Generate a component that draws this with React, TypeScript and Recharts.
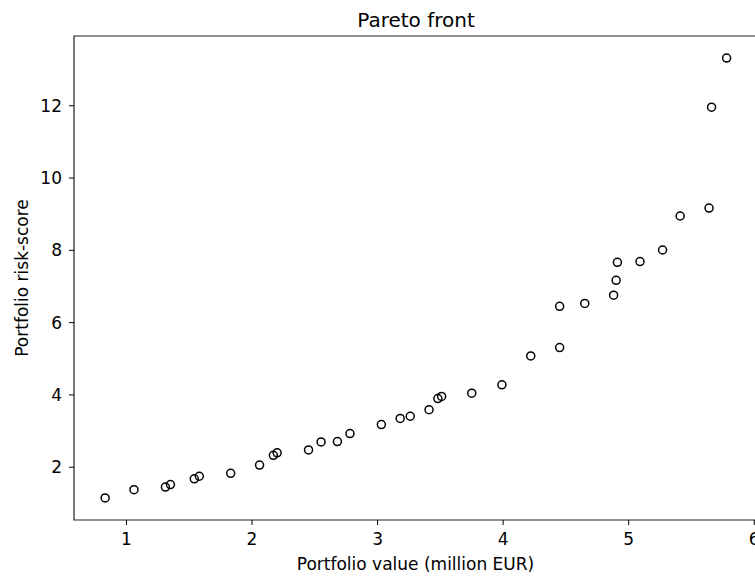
import { ScatterChart, Scatter, XAxis, YAxis, ReferenceArea } from 'recharts';

// portfolio value (million EUR) for each solution on the front
const portfolioValue = [
    0.83, 1.06, 1.31, 1.35, 1.54, 1.58, 1.83, 2.06, 2.17, 2.2,
    2.45, 2.55, 2.68, 2.78, 3.03, 3.18, 3.26, 3.41, 3.48, 3.51,
    3.75, 3.99, 4.22, 4.45, 4.45, 4.65, 4.88, 4.9, 4.91, 5.09,
    5.27, 5.41, 5.64, 5.66, 5.78,
];
// matching risk scores
const riskScore = [
    1.15, 1.38, 1.45, 1.52, 1.68, 1.75, 1.83, 2.06, 2.33, 2.4,
    2.48, 2.7, 2.71, 2.93, 3.18, 3.35, 3.41, 3.59, 3.9, 3.96,
    4.05, 4.28, 5.08, 5.31, 6.45, 6.53, 6.76, 7.17, 7.67, 7.69,
    8.01, 8.95, 9.17, 11.96, 13.32,
];
const xTicks = [1, 2, 3, 4, 5, 6];
const yTicks = [2, 4, 6, 8, 10, 12];
const xDomain = [0.582, 6.022];
const yDomain = [0.54, 13.93];

const points = portfolioValue.map((v, i) => ({ x: v, y: riskScore[i] }));

const FONT = '"DejaVu Sans", sans-serif';

const OpenCircle = (props: any) => (
    <circle cx={props.cx} cy={props.cy} r={4} fill="none" stroke="#000" strokeWidth={1.5} />
);

const YLabel = (props: any) => {
    const vb = props.viewBox;
    const cy = vb.y + vb.height / 2;
    return (
        <text x={22} y={cy} transform={`rotate(-90, 22, ${cy})`} textAnchor="middle" dominantBaseline="central"
            fontFamily={FONT} fontSize={17} fill="#000">
            Portfolio risk-score
        </text>
    );
};

export default function App() {
    return (
        <div style={{ position: 'absolute', left: 0, top: 0, width: 755, height: 576, overflow: 'hidden', background: '#fff' }}>
            <div style={{ position: 'absolute', left: 216, top: 10, width: 400, textAlign: 'center', fontFamily: FONT, fontSize: 20, lineHeight: '20px', color: '#000' }}>
                Pareto front
            </div>
            <ScatterChart width={760} height={576} margin={{ top: 36, right: 3, bottom: 0, left: 0 }}>
                <XAxis type="number" dataKey="x" domain={xDomain} ticks={xTicks} allowDataOverflow
                    height={56} axisLine={false} tickSize={5} tickMargin={8}
                    tickLine={{ stroke: '#000' }} tick={{ fill: '#000', fontSize: 17, fontFamily: FONT }}
                    label={{ value: 'Portfolio value (million EUR)', position: 'insideBottom', offset: 6, fill: '#000', fontSize: 17, fontFamily: FONT }} />
                <YAxis type="number" dataKey="y" domain={yDomain} ticks={yTicks} allowDataOverflow
                    width={74} axisLine={false} tickSize={5} tickMargin={7}
                    tickLine={{ stroke: '#000' }} tick={{ fill: '#000', fontSize: 17, fontFamily: FONT }}
                    label={{ content: YLabel }} />
                <ReferenceArea x1={xDomain[0]} x2={xDomain[1]} y1={yDomain[0]} y2={yDomain[1]}
                    fill="none" stroke="#222" strokeWidth={1.2} fillOpacity={0} />
                <Scatter data={points} shape={OpenCircle} isAnimationActive={false} />
            </ScatterChart>
        </div>
    );
}
